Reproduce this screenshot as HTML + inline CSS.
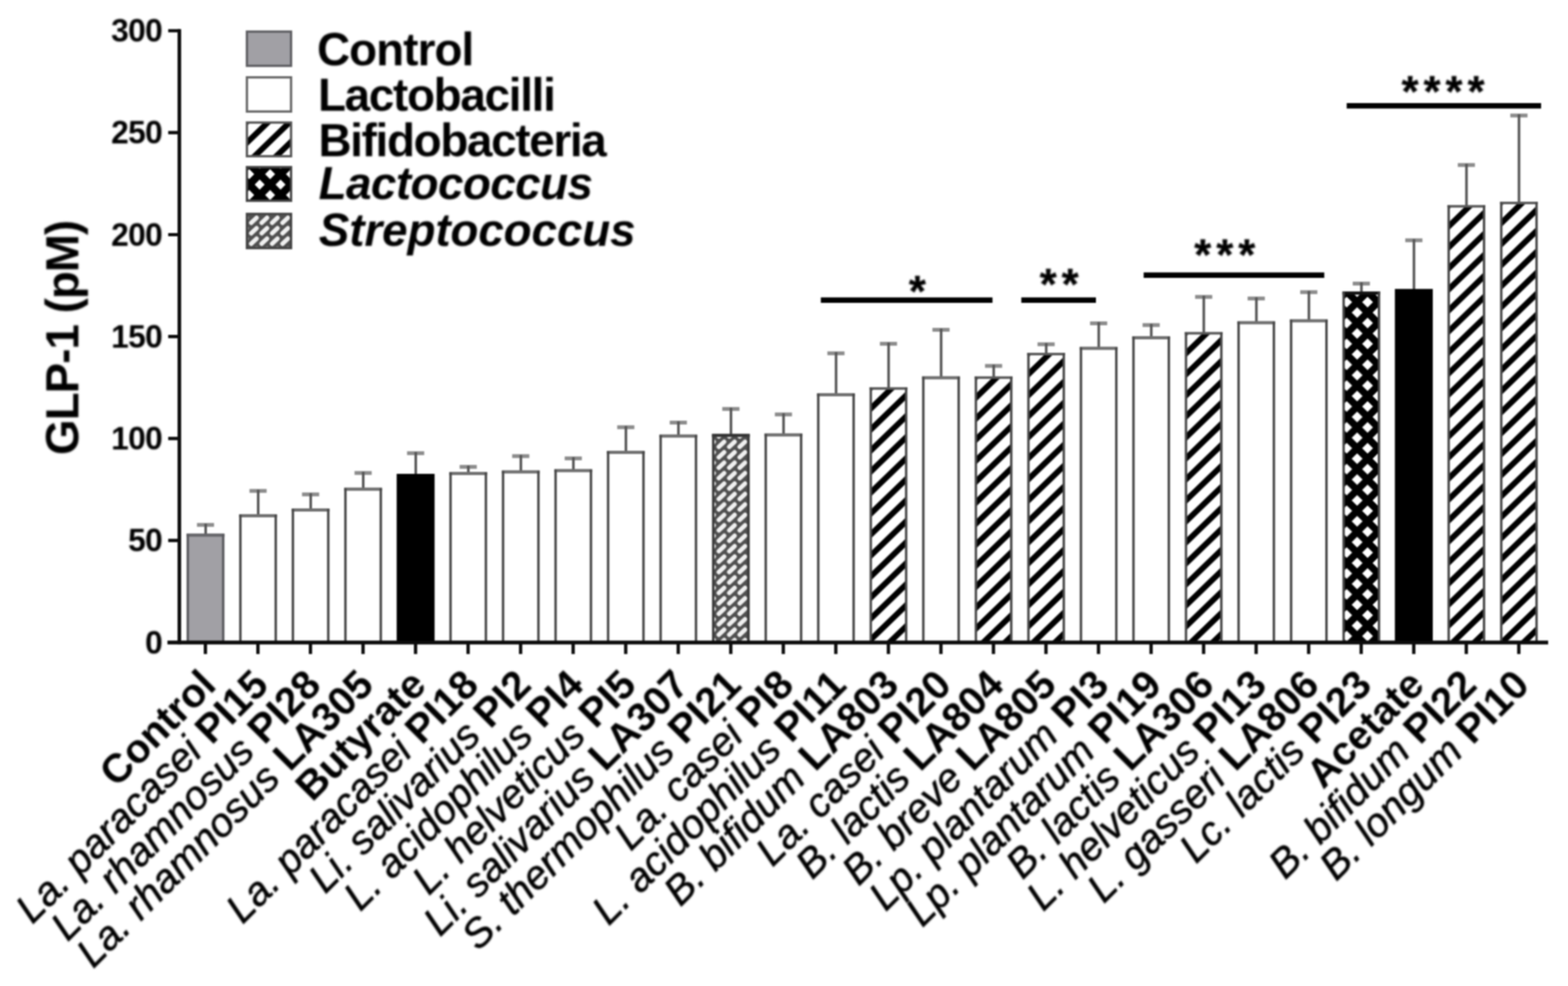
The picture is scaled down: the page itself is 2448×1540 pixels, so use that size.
<!DOCTYPE html>
<html lang="en"><head><meta charset="utf-8"><title>GLP-1 secretion by probiotic strain</title>
<style>
html,body{margin:0;padding:0;background:#fff;}
body{width:2448px;height:1540px;overflow:hidden;}
svg{display:block;font-family:"Liberation Sans",Arial,Helvetica,sans-serif;filter:blur(1.2px);}
#xlabels,#yticks,#legend text,#ytitle,#sig text{filter:blur(0.8px)}.b{font-weight:700;font-style:normal}.i{font-style:italic;font-weight:400;fill:#000}#xlabels .i{stroke:#000;stroke-width:0.8px}#xlabels .b{stroke:none}.bi{font-weight:700;font-style:italic}
</style></head><body>
<svg width="2448" height="1540" viewBox="0 0 2448 1540">
<defs>
<pattern id="hatch" patternUnits="userSpaceOnUse" width="60" height="23.555" patternTransform="translate(0 31.40) rotate(-44.10)"><rect x="-1" y="-1" width="62" height="25.555" fill="#fff"/><rect x="-1" y="0" width="62" height="4.550" fill="#000"/><rect x="-1" y="19.005" width="62" height="5.550" fill="#000"/></pattern>
<pattern id="cross" patternUnits="userSpaceOnUse" width="32.60" height="32.60" patternTransform="translate(4.80 14.20)"><rect x="-1" y="-1" width="34.60" height="34.60" fill="#000"/><path d="M7.80 16.30L16.30 7.80L24.80 16.30L16.30 24.80Z" fill="#fff"/><path d="M-8.50 0.00L0.00 -8.50L8.50 0.00L0.00 8.50Z" fill="#fff"/><path d="M24.10 0.00L32.60 -8.50L41.10 0.00L32.60 8.50Z" fill="#fff"/><path d="M-8.50 32.60L0.00 24.10L8.50 32.60L0.00 41.10Z" fill="#fff"/><path d="M24.10 32.60L32.60 24.10L41.10 32.60L32.60 41.10Z" fill="#fff"/></pattern>
<pattern id="crossL" patternUnits="userSpaceOnUse" width="32.60" height="32.60" patternTransform="translate(4.80 14.20)"><rect x="-1" y="-1" width="34.60" height="34.60" fill="#000"/><path d="M8.50 16.30L16.30 8.50L24.10 16.30L16.30 24.10Z" fill="#fff"/><path d="M-7.80 0.00L0.00 -7.80L7.80 0.00L0.00 7.80Z" fill="#fff"/><path d="M24.80 0.00L32.60 -7.80L40.40 0.00L32.60 7.80Z" fill="#fff"/><path d="M-7.80 32.60L0.00 24.80L7.80 32.60L0.00 40.40Z" fill="#fff"/><path d="M24.80 32.60L32.60 24.80L40.40 32.60L32.60 40.40Z" fill="#fff"/></pattern>
<pattern id="strep" patternUnits="userSpaceOnUse" width="16.30" height="16.30" patternTransform="translate(4.75 5.85)"><rect x="-1" y="-1" width="18.30" height="18.30" fill="#505050"/><line x1="3.95" y1="12.15" x2="12.35" y2="4.15" stroke="#f0f0f0" stroke-width="6.8" stroke-linecap="round"/></pattern>
</defs>
<rect width="2448" height="1540" fill="#fff"/>
<g id="bars">
<path d="M307.5 819.8H334.2" fill="none" stroke="#8c8c8c" stroke-width="6"/>
<path d="M321.1 835.8V818.0" fill="none" stroke="#555" stroke-width="4"/>
<g transform="translate(293.2 835.8)"><rect x="0" y="0" width="55.2" height="167.6" fill="#a1a0a5"/></g>
<path d="M291.2 835.8H350.5" fill="none" stroke="#66666a" stroke-width="5.0"/>
<path d="M293.2 834.3V1003.4M348.5 834.3V1003.4" fill="none" stroke="#5a5a5f" stroke-width="3.8"/>
<path d="M389.5 766.7H416.3" fill="none" stroke="#8c8c8c" stroke-width="6"/>
<path d="M403.1 805.5V764.9" fill="none" stroke="#555" stroke-width="4"/>
<g transform="translate(375.3 805.5)"><rect x="0" y="0" width="55.2" height="197.9" fill="#ffffff"/></g>
<path d="M373.3 805.5H432.5" fill="none" stroke="#707070" stroke-width="5.0"/>
<path d="M375.3 804.0V1003.4M430.5 804.0V1003.4" fill="none" stroke="#484848" stroke-width="3.8"/>
<path d="M471.5 772.2H498.3" fill="none" stroke="#8c8c8c" stroke-width="6"/>
<path d="M485.1 796.5V770.4" fill="none" stroke="#555" stroke-width="4"/>
<g transform="translate(457.3 796.5)"><rect x="0" y="0" width="55.2" height="206.9" fill="#ffffff"/></g>
<path d="M455.3 796.5H514.5" fill="none" stroke="#707070" stroke-width="5.0"/>
<path d="M457.3 795.0V1003.4M512.5 795.0V1003.4" fill="none" stroke="#484848" stroke-width="3.8"/>
<path d="M553.5 738.7H580.3" fill="none" stroke="#8c8c8c" stroke-width="6"/>
<path d="M567.1 764.1V736.9" fill="none" stroke="#555" stroke-width="4"/>
<g transform="translate(539.3 764.1)"><rect x="0" y="0" width="55.2" height="239.3" fill="#ffffff"/></g>
<path d="M537.3 764.1H596.5" fill="none" stroke="#707070" stroke-width="5.0"/>
<path d="M539.3 762.6V1003.4M594.5 762.6V1003.4" fill="none" stroke="#484848" stroke-width="3.8"/>
<path d="M635.5 707.8H662.3" fill="none" stroke="#8c8c8c" stroke-width="6"/>
<path d="M649.1 742.1V706.0" fill="none" stroke="#555" stroke-width="4"/>
<rect x="619.3" y="740.1" width="59.2" height="263.3" fill="#000"/>
<path d="M717.6 729.2H744.4" fill="none" stroke="#8c8c8c" stroke-width="6"/>
<path d="M731.2 739.5V727.4" fill="none" stroke="#555" stroke-width="4"/>
<g transform="translate(703.4 739.5)"><rect x="0" y="0" width="55.2" height="263.9" fill="#ffffff"/></g>
<path d="M701.4 739.5H760.6" fill="none" stroke="#707070" stroke-width="5.0"/>
<path d="M703.4 738.0V1003.4M758.6 738.0V1003.4" fill="none" stroke="#484848" stroke-width="3.8"/>
<path d="M799.6 712.4H826.4" fill="none" stroke="#8c8c8c" stroke-width="6"/>
<path d="M813.2 737.0V710.6" fill="none" stroke="#555" stroke-width="4"/>
<g transform="translate(785.4 737.0)"><rect x="0" y="0" width="55.2" height="266.4" fill="#ffffff"/></g>
<path d="M783.4 737.0H842.6" fill="none" stroke="#707070" stroke-width="5.0"/>
<path d="M785.4 735.5V1003.4M840.6 735.5V1003.4" fill="none" stroke="#484848" stroke-width="3.8"/>
<path d="M881.6 715.9H908.4" fill="none" stroke="#8c8c8c" stroke-width="6"/>
<path d="M895.2 734.9V714.1" fill="none" stroke="#555" stroke-width="4"/>
<g transform="translate(867.4 734.9)"><rect x="0" y="0" width="55.2" height="268.5" fill="#ffffff"/></g>
<path d="M865.4 734.9H924.6" fill="none" stroke="#707070" stroke-width="5.0"/>
<path d="M867.4 733.4V1003.4M922.6 733.4V1003.4" fill="none" stroke="#484848" stroke-width="3.8"/>
<path d="M963.6 667.3H990.4" fill="none" stroke="#8c8c8c" stroke-width="6"/>
<path d="M977.2 706.4V665.5" fill="none" stroke="#555" stroke-width="4"/>
<g transform="translate(949.4 706.4)"><rect x="0" y="0" width="55.2" height="297.0" fill="#ffffff"/></g>
<path d="M947.4 706.4H1006.6" fill="none" stroke="#707070" stroke-width="5.0"/>
<path d="M949.4 704.9V1003.4M1004.6 704.9V1003.4" fill="none" stroke="#484848" stroke-width="3.8"/>
<path d="M1045.6 660.0H1072.4" fill="none" stroke="#8c8c8c" stroke-width="6"/>
<path d="M1059.2 680.9V658.2" fill="none" stroke="#555" stroke-width="4"/>
<g transform="translate(1031.4 680.9)"><rect x="0" y="0" width="55.2" height="322.5" fill="#ffffff"/></g>
<path d="M1029.4 680.9H1088.6" fill="none" stroke="#707070" stroke-width="5.0"/>
<path d="M1031.4 679.4V1003.4M1086.6 679.4V1003.4" fill="none" stroke="#484848" stroke-width="3.8"/>
<path d="M1127.6 638.7H1154.5" fill="none" stroke="#8c8c8c" stroke-width="6"/>
<path d="M1141.2 680.0V636.9" fill="none" stroke="#555" stroke-width="4"/>
<g transform="translate(1113.5 680.0)"><rect x="0" y="0" width="55.2" height="323.4" fill="url(#strep)"/></g>
<path d="M1111.5 680.0H1170.6" fill="none" stroke="#333" stroke-width="5.0"/>
<path d="M1113.5 678.5V1003.4M1168.6 678.5V1003.4" fill="none" stroke="#3a3a3a" stroke-width="3.8"/>
<path d="M1209.7 647.3H1236.5" fill="none" stroke="#8c8c8c" stroke-width="6"/>
<path d="M1223.3 679.3V645.5" fill="none" stroke="#555" stroke-width="4"/>
<g transform="translate(1195.5 679.3)"><rect x="0" y="0" width="55.2" height="324.1" fill="#ffffff"/></g>
<path d="M1193.5 679.3H1252.7" fill="none" stroke="#707070" stroke-width="5.0"/>
<path d="M1195.5 677.8V1003.4M1250.7 677.8V1003.4" fill="none" stroke="#484848" stroke-width="3.8"/>
<path d="M1291.7 551.8H1318.5" fill="none" stroke="#8c8c8c" stroke-width="6"/>
<path d="M1305.3 616.5V550.0" fill="none" stroke="#555" stroke-width="4"/>
<g transform="translate(1277.5 616.5)"><rect x="0" y="0" width="55.2" height="386.9" fill="#ffffff"/></g>
<path d="M1275.5 616.5H1334.7" fill="none" stroke="#707070" stroke-width="5.0"/>
<path d="M1277.5 615.0V1003.4M1332.7 615.0V1003.4" fill="none" stroke="#484848" stroke-width="3.8"/>
<path d="M1373.7 536.9H1400.5" fill="none" stroke="#8c8c8c" stroke-width="6"/>
<path d="M1387.3 606.7V535.1" fill="none" stroke="#555" stroke-width="4"/>
<g transform="translate(1359.5 606.7)"><rect x="0" y="0" width="55.2" height="396.7" fill="url(#hatch)"/></g>
<path d="M1357.5 606.7H1416.7" fill="none" stroke="#5a5a5a" stroke-width="4.0"/>
<path d="M1359.5 605.2V1003.4M1414.7 605.2V1003.4" fill="none" stroke="#4a4a4a" stroke-width="3.8"/>
<path d="M1455.7 515.1H1482.5" fill="none" stroke="#8c8c8c" stroke-width="6"/>
<path d="M1469.3 590.1V513.3" fill="none" stroke="#555" stroke-width="4"/>
<g transform="translate(1441.5 590.1)"><rect x="0" y="0" width="55.2" height="413.3" fill="#ffffff"/></g>
<path d="M1439.5 590.1H1498.7" fill="none" stroke="#707070" stroke-width="5.0"/>
<path d="M1441.5 588.6V1003.4M1496.7 588.6V1003.4" fill="none" stroke="#484848" stroke-width="3.8"/>
<path d="M1537.8 571.5H1564.6" fill="none" stroke="#8c8c8c" stroke-width="6"/>
<path d="M1551.4 589.7V569.7" fill="none" stroke="#555" stroke-width="4"/>
<g transform="translate(1523.6 589.7)"><rect x="0" y="0" width="55.2" height="413.7" fill="url(#hatch)"/></g>
<path d="M1521.6 589.7H1580.8" fill="none" stroke="#5a5a5a" stroke-width="4.0"/>
<path d="M1523.6 588.2V1003.4M1578.8 588.2V1003.4" fill="none" stroke="#4a4a4a" stroke-width="3.8"/>
<path d="M1619.8 537.7H1646.6" fill="none" stroke="#8c8c8c" stroke-width="6"/>
<path d="M1633.4 553.1V535.9" fill="none" stroke="#555" stroke-width="4"/>
<g transform="translate(1605.6 553.1)"><rect x="0" y="0" width="55.2" height="450.3" fill="url(#hatch)"/></g>
<path d="M1603.6 553.1H1662.8" fill="none" stroke="#5a5a5a" stroke-width="4.0"/>
<path d="M1605.6 551.6V1003.4M1660.8 551.6V1003.4" fill="none" stroke="#4a4a4a" stroke-width="3.8"/>
<path d="M1701.8 505.0H1728.6" fill="none" stroke="#8c8c8c" stroke-width="6"/>
<path d="M1715.4 544.1V503.2" fill="none" stroke="#555" stroke-width="4"/>
<g transform="translate(1687.6 544.1)"><rect x="0" y="0" width="55.2" height="459.3" fill="#ffffff"/></g>
<path d="M1685.6 544.1H1744.8" fill="none" stroke="#707070" stroke-width="5.0"/>
<path d="M1687.6 542.6V1003.4M1742.8 542.6V1003.4" fill="none" stroke="#484848" stroke-width="3.8"/>
<path d="M1783.8 507.7H1810.6" fill="none" stroke="#8c8c8c" stroke-width="6"/>
<path d="M1797.4 527.5V505.9" fill="none" stroke="#555" stroke-width="4"/>
<g transform="translate(1769.6 527.5)"><rect x="0" y="0" width="55.2" height="475.9" fill="#ffffff"/></g>
<path d="M1767.6 527.5H1826.8" fill="none" stroke="#707070" stroke-width="5.0"/>
<path d="M1769.6 526.0V1003.4M1824.8 526.0V1003.4" fill="none" stroke="#484848" stroke-width="3.8"/>
<path d="M1865.8 463.7H1892.6" fill="none" stroke="#8c8c8c" stroke-width="6"/>
<path d="M1879.4 520.5V461.9" fill="none" stroke="#555" stroke-width="4"/>
<g transform="translate(1851.6 520.5)"><rect x="0" y="0" width="55.2" height="482.9" fill="url(#hatch)"/></g>
<path d="M1849.6 520.5H1908.8" fill="none" stroke="#5a5a5a" stroke-width="4.0"/>
<path d="M1851.6 519.0V1003.4M1906.8 519.0V1003.4" fill="none" stroke="#4a4a4a" stroke-width="3.8"/>
<path d="M1947.8 466.2H1974.7" fill="none" stroke="#8c8c8c" stroke-width="6"/>
<path d="M1961.5 503.9V464.4" fill="none" stroke="#555" stroke-width="4"/>
<g transform="translate(1933.7 503.9)"><rect x="0" y="0" width="55.2" height="499.5" fill="#ffffff"/></g>
<path d="M1931.7 503.9H1990.8" fill="none" stroke="#707070" stroke-width="5.0"/>
<path d="M1933.7 502.4V1003.4M1988.8 502.4V1003.4" fill="none" stroke="#484848" stroke-width="3.8"/>
<path d="M2029.9 456.3H2056.7" fill="none" stroke="#8c8c8c" stroke-width="6"/>
<path d="M2043.5 501.1V454.5" fill="none" stroke="#555" stroke-width="4"/>
<g transform="translate(2015.7 501.1)"><rect x="0" y="0" width="55.2" height="502.3" fill="#ffffff"/></g>
<path d="M2013.7 501.1H2072.9" fill="none" stroke="#707070" stroke-width="5.0"/>
<path d="M2015.7 499.6V1003.4M2070.9 499.6V1003.4" fill="none" stroke="#484848" stroke-width="3.8"/>
<path d="M2111.9 442.9H2138.7" fill="none" stroke="#8c8c8c" stroke-width="6"/>
<path d="M2125.5 457.7V441.1" fill="none" stroke="#555" stroke-width="4"/>
<g transform="translate(2097.7 457.7)"><rect x="0" y="0" width="55.2" height="545.7" fill="url(#cross)"/></g>
<path d="M2095.7 457.7H2154.9" fill="none" stroke="#111" stroke-width="5.0"/>
<path d="M2097.7 456.2V1003.4M2152.9 456.2V1003.4" fill="none" stroke="#444" stroke-width="3.8"/>
<path d="M2193.9 375.3H2220.7" fill="none" stroke="#8c8c8c" stroke-width="6"/>
<path d="M2207.5 453.3V373.5" fill="none" stroke="#555" stroke-width="4"/>
<rect x="2177.7" y="451.3" width="59.2" height="552.1" fill="#000"/>
<path d="M2275.9 257.7H2302.7" fill="none" stroke="#8c8c8c" stroke-width="6"/>
<path d="M2289.5 322.2V255.9" fill="none" stroke="#555" stroke-width="4"/>
<g transform="translate(2261.7 322.2)"><rect x="0" y="0" width="55.2" height="681.2" fill="url(#hatch)"/></g>
<path d="M2259.7 322.2H2318.9" fill="none" stroke="#5a5a5a" stroke-width="4.0"/>
<path d="M2261.7 320.7V1003.4M2316.9 320.7V1003.4" fill="none" stroke="#4a4a4a" stroke-width="3.8"/>
<path d="M2357.9 180.4H2384.8" fill="none" stroke="#8c8c8c" stroke-width="6"/>
<path d="M2371.5 317.1V178.6" fill="none" stroke="#555" stroke-width="4"/>
<g transform="translate(2343.8 317.1)"><rect x="0" y="0" width="55.2" height="686.3" fill="url(#hatch)"/></g>
<path d="M2341.8 317.1H2400.9" fill="none" stroke="#5a5a5a" stroke-width="4.0"/>
<path d="M2343.8 315.6V1003.4M2398.9 315.6V1003.4" fill="none" stroke="#4a4a4a" stroke-width="3.8"/>
</g>
<g id="axes" stroke="#0c0c0c" fill="none">
<path d="M280.0 45.4V1006.2" stroke-width="5.6"/>
<path d="M261.4 1003.5H2417" stroke-width="5.8"/>
<path d="M262.6 844.2H281M262.6 684.9H281M262.6 525.7H281M262.6 366.5H281M262.6 207.2H281M262.6 48.0H281" stroke-width="5.2"/>
<path d="M320.7 1003.4V1021.6M402.7 1003.4V1021.6M484.7 1003.4V1021.6M566.8 1003.4V1021.6M648.8 1003.4V1021.6M730.8 1003.4V1021.6M812.8 1003.4V1021.6M894.8 1003.4V1021.6M976.9 1003.4V1021.6M1058.9 1003.4V1021.6M1140.9 1003.4V1021.6M1222.9 1003.4V1021.6M1304.9 1003.4V1021.6M1387.0 1003.4V1021.6M1469.0 1003.4V1021.6M1551.0 1003.4V1021.6M1633.0 1003.4V1021.6M1715.0 1003.4V1021.6M1797.1 1003.4V1021.6M1879.1 1003.4V1021.6M1961.1 1003.4V1021.6M2043.1 1003.4V1021.6M2125.1 1003.4V1021.6M2207.2 1003.4V1021.6M2289.2 1003.4V1021.6M2371.2 1003.4V1021.6" stroke-width="5.2"/>
</g>
<g id="yticks" class="b" font-size="49.5" text-anchor="end" letter-spacing="-1">
<text x="253.0" y="1020.5">0</text>
<text x="253.0" y="861.3">50</text>
<text x="253.0" y="702.1">100</text>
<text x="253.0" y="542.8">150</text>
<text x="253.0" y="383.6">200</text>
<text x="253.0" y="224.4">250</text>
<text x="253.0" y="65.1">300</text>
</g>
<text id="ytitle" class="b" font-size="71.5" text-anchor="middle" letter-spacing="-1.55" transform="translate(122.3 527.7) rotate(-90)">GLP-1 (pM)</text>
<g id="legend" font-size="71.5">
<g transform="translate(385.5 49.4)"><rect x="0.0" y="0.0" width="68.9" height="53.4" fill="#a1a0a5" stroke="#5e5e62" stroke-width="3.6"/></g>
<text class="b" x="494.9" y="101.7" letter-spacing="-1.45">Control</text>
<g transform="translate(385.5 120.8)"><rect x="0.0" y="0.0" width="68.9" height="53.4" fill="#fff" stroke="#666" stroke-width="3.6"/></g>
<text class="b" x="496.4" y="172.9" letter-spacing="-2">Lactobacilli</text>
<g transform="translate(385.5 191.4)"><rect x="0.0" y="0.0" width="68.9" height="52.6" fill="url(#hatch)" stroke="#555" stroke-width="3.6"/></g>
<text class="b" x="497.2" y="243.5" letter-spacing="-2.05">Bifidobacteria</text>
<g transform="translate(384.3 257.8)"><rect x="1.2" y="3.2" width="68.9" height="52.6" fill="url(#crossL)" stroke="#444" stroke-width="3.6"/></g>
<text class="bi" x="497.4" y="311.4" letter-spacing="-0.87">Lactococcus</text>
<g transform="translate(383.5 330.1)"><rect x="2.0" y="4.0" width="68.9" height="53.4" fill="url(#strep)" stroke="#444" stroke-width="3.6"/></g>
<text class="bi" x="497.8" y="384.0" letter-spacing="-0.18">Streptococcus</text>
</g>
<g id="sig" class="b" font-size="68" letter-spacing="7.85" stroke="#000" stroke-width="0.5">
<path d="M1281.5 468.8H1549.5" stroke="#000" stroke-width="8.4" fill="none"/>
<text x="1419.1" y="477.9">*</text>
<path d="M1594.5 468.8H1711.0" stroke="#000" stroke-width="8.4" fill="none"/>
<text x="1623.2" y="467.0">**</text>
<path d="M1785.5 429.8H2067.5" stroke="#000" stroke-width="8.4" fill="none"/>
<text x="1864.6" y="420.6">***</text>
<path d="M2102.5 165.3H2406.0" stroke="#000" stroke-width="8.4" fill="none"/>
<text x="2188.2" y="165.7">****</text>
</g>
<g id="xlabels" font-size="63" text-anchor="end">
<text xml:space="preserve" transform="translate(340.1 1073.0) rotate(-45)"><tspan class="b">Control</tspan></text>
<text xml:space="preserve" transform="translate(422.1 1073.0) rotate(-45)"><tspan class="i" xml:space="preserve">La. paracasei </tspan><tspan class="b">PI15</tspan></text>
<text xml:space="preserve" transform="translate(504.1 1073.0) rotate(-45)"><tspan class="i" xml:space="preserve">La. rhamnosus </tspan><tspan class="b">PI28</tspan></text>
<text xml:space="preserve" transform="translate(586.2 1073.0) rotate(-45)"><tspan class="i" xml:space="preserve">La. rhamnosus </tspan><tspan class="b">LA305</tspan></text>
<text xml:space="preserve" transform="translate(668.2 1073.0) rotate(-45)"><tspan class="b">Butyrate</tspan></text>
<text xml:space="preserve" transform="translate(750.2 1073.0) rotate(-45)"><tspan class="i" xml:space="preserve">La. paracasei </tspan><tspan class="b">PI18</tspan></text>
<text xml:space="preserve" transform="translate(832.2 1073.0) rotate(-45)"><tspan class="i" xml:space="preserve">Li. salivarius </tspan><tspan class="b">PI2</tspan></text>
<text xml:space="preserve" transform="translate(914.2 1073.0) rotate(-45)"><tspan class="i" xml:space="preserve">L. acidophilus </tspan><tspan class="b">PI4</tspan></text>
<text xml:space="preserve" transform="translate(996.3 1073.0) rotate(-45)"><tspan class="i" xml:space="preserve">L. helveticus </tspan><tspan class="b">PI5</tspan></text>
<text xml:space="preserve" transform="translate(1078.3 1073.0) rotate(-45)"><tspan class="i" xml:space="preserve">Li. salivarius </tspan><tspan class="b">LA307</tspan></text>
<text xml:space="preserve" transform="translate(1160.3 1073.0) rotate(-45)"><tspan class="i" xml:space="preserve">S. thermophilus </tspan><tspan class="b">PI21</tspan></text>
<text xml:space="preserve" transform="translate(1242.3 1073.0) rotate(-45)"><tspan class="i" xml:space="preserve">La. casei </tspan><tspan class="b">PI8</tspan></text>
<text xml:space="preserve" transform="translate(1324.3 1073.0) rotate(-45)"><tspan class="i" xml:space="preserve">L. acidophilus </tspan><tspan class="b">PI11</tspan></text>
<text xml:space="preserve" transform="translate(1406.4 1073.0) rotate(-45)"><tspan class="i" xml:space="preserve">B. bifidum </tspan><tspan class="b">LA803</tspan></text>
<text xml:space="preserve" transform="translate(1488.4 1073.0) rotate(-45)"><tspan class="i" xml:space="preserve">La. casei </tspan><tspan class="b">PI20</tspan></text>
<text xml:space="preserve" transform="translate(1570.4 1073.0) rotate(-45)"><tspan class="i" xml:space="preserve">B. lactis </tspan><tspan class="b">LA804</tspan></text>
<text xml:space="preserve" transform="translate(1652.4 1073.0) rotate(-45)"><tspan class="i" xml:space="preserve">B. breve </tspan><tspan class="b">LA805</tspan></text>
<text xml:space="preserve" transform="translate(1734.4 1073.0) rotate(-45)"><tspan class="i" xml:space="preserve">Lp. plantarum </tspan><tspan class="b">PI3</tspan></text>
<text xml:space="preserve" transform="translate(1816.5 1073.0) rotate(-45)"><tspan class="i" xml:space="preserve">Lp. plantarum </tspan><tspan class="b">PI19</tspan></text>
<text xml:space="preserve" transform="translate(1898.5 1073.0) rotate(-45)"><tspan class="i" xml:space="preserve">B. lactis </tspan><tspan class="b">LA306</tspan></text>
<text xml:space="preserve" transform="translate(1980.5 1073.0) rotate(-45)"><tspan class="i" xml:space="preserve">L. helveticus </tspan><tspan class="b">PI13</tspan></text>
<text xml:space="preserve" transform="translate(2062.5 1073.0) rotate(-45)"><tspan class="i" xml:space="preserve">L. gasseri </tspan><tspan class="b">LA806</tspan></text>
<text xml:space="preserve" transform="translate(2144.5 1073.0) rotate(-45)"><tspan class="i" xml:space="preserve">Lc. lactis </tspan><tspan class="b">PI23</tspan></text>
<text xml:space="preserve" transform="translate(2226.6 1073.0) rotate(-45)"><tspan class="b">Acetate</tspan></text>
<text xml:space="preserve" transform="translate(2308.6 1073.0) rotate(-45)"><tspan class="i" xml:space="preserve">B. bifidum </tspan><tspan class="b">PI22</tspan></text>
<text xml:space="preserve" transform="translate(2390.6 1073.0) rotate(-45)"><tspan class="i" xml:space="preserve">B. longum </tspan><tspan class="b">PI10</tspan></text>
</g>
</svg></body></html>
